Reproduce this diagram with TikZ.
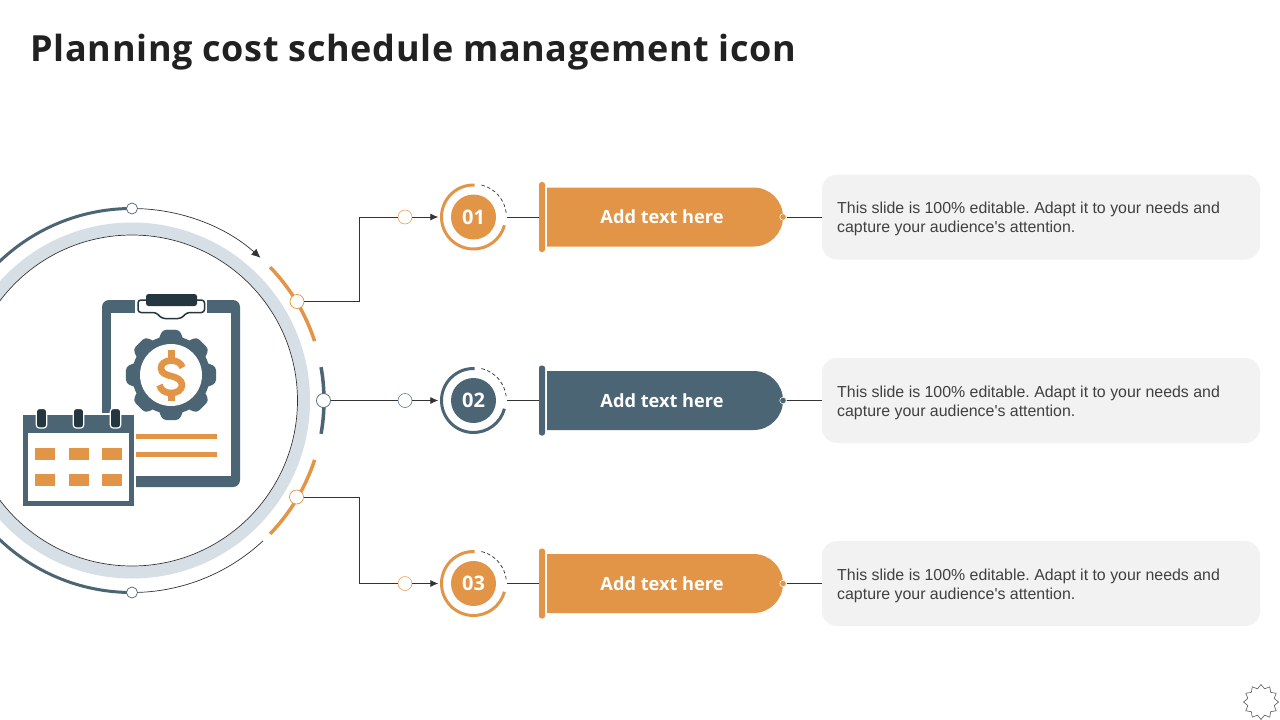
\documentclass[tikz,border=0pt]{standalone}
\usepackage{fontspec}
\setmainfont{Liberation Sans}
\newfontfamily\bodyfont[Ligatures=NoCommon]{Liberation Sans}
\newfontfamily\titlefont{Open Sans}
\newfontfamily\titlebig[LetterSpace=1.75]{Open Sans}
\usetikzlibrary{arrows.meta,shapes.geometric,shapes.misc}
\definecolor{orng}{HTML}{E29547}
\definecolor{slate}{HTML}{4C6575}
\definecolor{mist}{HTML}{D6DFE6}
\definecolor{ink}{HTML}{24363F}
\definecolor{panel}{HTML}{F2F2F2}
\definecolor{wire}{HTML}{333333}
\tikzset{
  hub/.style={circle,draw=#1,fill=white,line width=.7pt,minimum size=14pt,inner sep=0pt},
  wireline/.style={draw=wire,line width=.8pt},
  disc/.style={circle,fill=#1,minimum size=45pt,inner sep=0pt,text=white,font=\titlefont\bfseries\fontsize{20}{20}\selectfont},
  ringspot/.style={circle,minimum size=66pt,inner sep=0pt},
  barnode/.style={rectangle,rounded corners=2.5pt,fill=#1,minimum width=6pt,minimum height=70pt,inner sep=0pt},
  pill/.style={rounded rectangle,rounded rectangle left arc=none,fill=#1,minimum width=236pt,minimum height=59pt,inner sep=0pt},
  pilltext/.style={text=white,font=\titlefont\bfseries\fontsize{18.2}{18}\selectfont,inner sep=0pt},
  tipdot/.style={circle,fill=#1,draw=white,line width=.5pt,minimum size=6.5pt,inner sep=0pt},
  notebox/.style={rectangle,rounded corners=15pt,fill=panel,minimum width=438pt,minimum height=85pt,inner sep=0pt},
  notetext/.style={anchor=west,align=left,text=black!75,font=\bodyfont\frenchspacing\fontsize{15.9}{19}\selectfont,inner sep=0pt},
  cell/.style={fill=orng}
}
\begin{document}
\begin{tikzpicture}[x=1pt,y=1pt]
\useasboundingbox (0,-720) rectangle (1280,0);
\clip (0,-720) rectangle (1280,0);
\fill[white] (0,-720) rectangle (1280,0);
\node[anchor=base west,inner sep=0pt,text=black!87,font=\titlebig\bfseries\fontsize{36}{36}\selectfont] (title) at (30.5,-61) {Planning cost schedule management icon};
\coordinate (c) at (132,-400.5);
% big rings
\draw[mist,line width=12pt] (c) circle[radius=172];
\draw[wire,line width=.7pt] (c) circle[radius=165.5];
\draw[slate,line width=3pt] ([shift={(90:192)}]c) arc[start angle=90,end angle=270,radius=192];
\draw[wire,line width=.7pt,-{Latex[length=9pt,width=8pt]}] ([shift={(90:192)}]c) arc[start angle=90,end angle=48,radius=192];
\draw[wire,line width=.7pt] ([shift={(-90:192)}]c) arc[start angle=-90,end angle=-47,radius=192];
\draw[orng,line width=3.5pt] ([shift={(44:192)}]c) arc[start angle=44,end angle=18,radius=192];
\draw[orng,line width=3.5pt] ([shift={(-44:192)}]c) arc[start angle=-44,end angle=-18,radius=192];
\draw[slate,line width=3.5pt] ([shift={(10:192)}]c) arc[start angle=10,end angle=-10,radius=192];
\node[hub=slate] (top) at (132,-208.5) [minimum size=11pt] {};
\node[hub=slate] (bot) at (132,-592.5) [minimum size=11pt] {};
\node[hub=orng] (h1) at (297,-301.5) {};
\node[hub=slate] (h2) at (323.5,-400.5) {};
\node[hub=orng] (h3) at (296.5,-497) {};
% clipboard
\fill[slate,rounded corners=7pt] (102,-300) rectangle (240,-487);
\fill[white] (111,-312.5) rectangle (231,-476);
\fill[white] (135,-298) rectangle (207,-315);
\filldraw[fill=white,draw=ink,line width=1.5pt,rounded corners=3pt] (138,-300) -- (204.5,-300) -- (204.5,-312.5) -- (187,-312.5) -- (181,-318.5) -- (162,-318.5) -- (156,-312.5) -- (138,-312.5) -- cycle;
\fill[ink,rounded corners=2.5pt] (146,-294) rectangle (197,-306);
% gear
\begin{scope}[shift={(171,-375)}]
\fill[slate] (0,0) circle[radius=39];
\foreach \a in {90,135,...,450}{
  \fill[slate,rounded corners=3.5pt] (\a-20:37) -- (\a-10.5:45.8) -- (\a+10.5:45.8) -- (\a+20:37) -- cycle;
}
\fill[white] (0,0) circle[radius=31];
\end{scope}
% dollar sign of the icon
\draw[orng,line width=6.6pt] (182.5,-367.5) .. controls (181,-362.5) and (176,-360.5) .. (171,-360.5) .. controls (165,-360.5) and (161,-364) .. (161,-368) .. controls (161,-373) and (166,-375) .. (171,-376) .. controls (177,-377.5) and (182,-380) .. (182,-385) .. controls (182,-390) and (177,-393) .. (171,-393) .. controls (165,-393) and (160.5,-390) .. (159.5,-385);
\fill[orng] (168.2,-349.5) rectangle (174.8,-361);
\fill[orng] (168.2,-392) rectangle (174.8,-400.5);
\fill[orng] (136,-434) rectangle (217,-439);
\fill[orng] (136,-452) rectangle (217,-457);
% calendar
\fill[white] (20,-413) rectangle (136,-508);
\fill[slate] (23,-415) rectangle (134,-506);
\fill[white] (28,-433) rectangle (129,-501);
\foreach \x in {35,68.5,102}{
  \foreach \y in {448,474}{
    \fill[cell] (\x,-\y) rectangle ++(20,-12);
  }
}
\foreach \x in {41.5,78.5,115.5}{
  \filldraw[fill=ink,draw=white,line width=1.2pt,rounded corners=3pt] (\x-5.2,-408.5) rectangle (\x+5.2,-428);
}
% rows
\foreach \i/\yy/\col/\num in {1/217/orng/01,2/400.5/slate/02,3/583.5/orng/03}{
  \coordinate (o\i) at (473.5,-\yy);
  \draw[\col,line width=3pt] ([shift={(88:32)}]o\i) arc[start angle=88,end angle=345,radius=32];
  \draw[wire,line width=.7pt,dash pattern=on 3.5pt off 2.5pt] ([shift={(76:33)}]o\i) arc[start angle=76,end angle=5,radius=33];
  \node[disc=\col] (d\i) at (o\i) {\num};
  \node[ringspot] (r\i) at (o\i) {};
  \node[hub=\col,line width=.5pt] (k\i) at (405,-\yy) {};
  \node[barnode=\col] (b\i) at (542,-\yy) {};
  \node[pill=\col] (p\i) at (665,-\yy) {};
  \node[pilltext] (t\i) at (662,-\yy) {Add text here};
  \node[tipdot=\col] (q\i) at (783,-\yy) {};
  \node[notebox] (n\i) at (1041,-\yy) {};
  \node[notetext] (x\i) at (837,-\yy-2) {This slide is 100\% editable. Adapt it to your needs and\\capture your audience's attention.};
  \draw[wireline] (r\i.east) -- (b\i.west);
  \draw[wireline] (q\i.east) -- (n\i.west);
  \draw[wireline,shorten >=2pt,-{Latex[length=8pt,width=7pt]}] (k\i.east) -- (r\i.west);
}
\coordinate (e1) at (359.5,-301.5);
\coordinate (e3) at (359.5,-497);
\draw[wireline] (h1.east) -- (e1) |- (k1.west);
\draw[wireline] (h2.east) -- (k2.west);
\draw[wireline] (h3.east) -- (e3) |- (k3.west);
% badge
\node[star,star points=12,star point ratio=1.28,draw=black!65,line width=.6pt,minimum size=35pt,inner sep=0pt] (seal) at (1261,-702) {};
\end{tikzpicture}
\end{document}
